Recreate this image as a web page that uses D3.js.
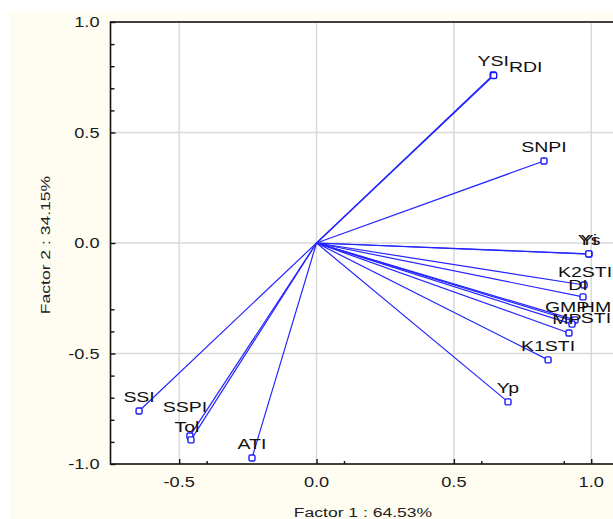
<!DOCTYPE html>
<html>
<head>
<meta charset="utf-8">
<script src="https://cdn.jsdelivr.net/npm/d3@7"></script>
<style>
  html, body { margin: 0; padding: 0; background: #ffffff; overflow: hidden; }
  svg { display: block; }
</style>
</head>
<body>
<svg id="chart" width="613" height="519"></svg>
<script>
// ---- data ----
const variables = ["YSI", "RDI", "SNPI", "Ys", "Yi", "K2STI", "DI", "GMP", "HM", "STI", "MP", "K1STI", "Yp", "SSI", "SSPI", "Tol", "ATI"];
const factor1 = [0.643, 0.645, 0.828, 0.992, 0.991, 0.974, 0.970, 0.934, 0.941, 0.930, 0.919, 0.843, 0.697, -0.646, -0.461, -0.457, -0.235];
const factor2 = [0.760, 0.758, 0.371, -0.050, -0.049, -0.190, -0.244, -0.353, -0.348, -0.367, -0.407, -0.529, -0.719, -0.760, -0.873, -0.891, -0.973];
const xTicks = [-0.5, 0.0, 0.5, 1.0];
const yTicks = [-1.0, -0.5, 0.0, 0.5, 1.0];
const xMinorTicks = [-0.4, 0.1, 0.6, 0.9];
const yMinorTicks = [0.9, 0.8, 0.7, 0.6, -0.3, -0.4, -0.6, -0.7, -0.8, -0.9];
const xTitle = "Factor 1 : 64.53%";
const yTitle = "Factor 2 : 34.15%";

// ---- layout (label nudges, not data) ----
const labelNudge = {
  RDI: [32, -3], HM: [21, -8], STI: [24, -1], GMP: [-6, -9], MP: [-2, -9],
  SSPI: [-5, -24], Tol: [-4, -8], K2STI: [1, -8], DI: [-5, -7]
};
const SX = 1.3; // horizontal glyph stretch seen in the reference

const svg = d3.select("#chart");
const x = d3.scaleLinear().domain([-0.75, 1.25]).range([110.5, 659.9]);
const y = d3.scaleLinear().domain([-1, 1]).range([464, 22]);

// backgrounds
svg.append("rect").attr("x", 0).attr("y", 0).attr("width", 613).attr("height", 519).attr("fill", "#ffffff");
svg.append("rect").attr("x", 10).attr("y", 12).attr("width", 603).attr("height", 507).attr("fill", "#fffdf2");
svg.append("rect").attr("x", x(-0.75)).attr("y", y(1)).attr("width", x(1.25) - x(-0.75)).attr("height", y(-1) - y(1)).attr("fill", "#ffffff");

// grid
const grid = svg.append("g").attr("stroke", "#d9d9d9").attr("stroke-width", 1.5);
grid.selectAll("line.v").data(xTicks).join("line")
  .attr("x1", d => x(d)).attr("x2", d => x(d)).attr("y1", y(1)).attr("y2", y(-1));
grid.selectAll("line.h").data(yTicks.filter(d => d > -1 && d < 1)).join("line")
  .attr("class", "h")
  .attr("x1", x(-0.75)).attr("x2", x(1.25)).attr("y1", d => y(d)).attr("y2", d => y(d));

// axes via d3
const fontFam = "'Liberation Sans', Arial, sans-serif";
const gx = svg.append("g").attr("transform", `translate(0,${y(-1)})`)
  .call(d3.axisTop(x).tickValues(xTicks).tickSize(5).tickFormat(""));
const gxm = svg.append("g").attr("transform", `translate(0,${y(-1)})`)
  .call(d3.axisTop(x).tickValues(xMinorTicks).tickSize(3).tickFormat(""));
const gy = svg.append("g").attr("transform", `translate(${x(-0.75)},0)`)
  .call(d3.axisRight(y).tickValues(yTicks).tickSize(5).tickFormat(""));
const gym = svg.append("g").attr("transform", `translate(${x(-0.75)},0)`)
  .call(d3.axisRight(y).tickValues(yMinorTicks).tickSize(4).tickFormat(""));
[gx, gxm, gy, gym].forEach(g => {
  g.select(".domain").remove();
  g.selectAll(".tick line").attr("stroke", "#111").attr("stroke-width", 1.4);
});

// frame
svg.append("rect").attr("x", x(-0.75)).attr("y", y(1)).attr("width", x(1.25) - x(-0.75)).attr("height", y(-1) - y(1))
  .attr("fill", "none").attr("stroke", "#111").attr("stroke-width", 1.6);

// text helper
function stretchedText(parent, tx, ty, txt, opts) {
  const rot = opts.rotate || 0;
  return parent.append("text")
    .attr("transform", `translate(${tx},${ty}) rotate(${rot}) scale(${SX},1)`)
    .attr("text-anchor", opts.anchor || "middle")
    .attr("font-family", fontFam)
    .attr("font-size", opts.size || 14)
    .attr("fill", opts.fill || "#222")
    .text(txt);
}
const fmt = t => d3.format(".1f")(t).replace("\u2212", "-");
xTicks.forEach(t => stretchedText(svg, x(t), y(-1) + 23, fmt(t), {size: 14, fill: "#1a1a1a"}));
yTicks.forEach(t => stretchedText(svg, x(-0.75) - 11, y(t) + 5, fmt(t), {size: 14, anchor: "end", fill: "#1a1a1a"}));

stretchedText(svg, 363, 517, xTitle, {size: 13.5, fill: "#222"});
stretchedText(svg, 50, 245, yTitle, {size: 13.5, fill: "#222", rotate: -90});

// vectors
const pts = variables.map((v, i) => ({name: v, fx: factor1[i], fy: factor2[i]}));
svg.append("g").selectAll("line").data(pts).join("line")
  .attr("x1", x(0)).attr("y1", y(0))
  .attr("x2", d => x(d.fx)).attr("y2", d => y(d.fy))
  .attr("stroke", "#2424ff").attr("stroke-width", 1.2);

svg.append("g").selectAll("rect").data(pts).join("rect")
  .attr("x", d => x(d.fx) - 3).attr("y", d => y(d.fy) - 3)
  .attr("width", 6).attr("height", 6).attr("rx", 1.5)
  .attr("fill", "#ffffff").attr("stroke", "#1a1aff").attr("stroke-width", 1.4);

// point labels
const lg = svg.append("g");
pts.forEach(d => {
  const n = labelNudge[d.name] || [0, -9];
  stretchedText(lg, x(d.fx) + n[0], y(d.fy) + n[1], d.name, {size: 15, fill: "#111"});
});
</script>
</body>
</html>
